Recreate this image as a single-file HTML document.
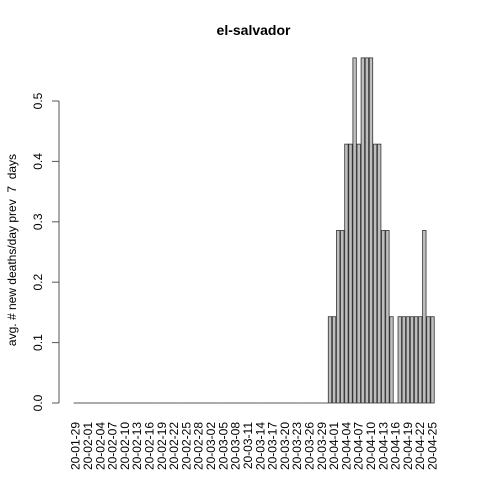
<!DOCTYPE html>
<html><head><meta charset="utf-8"><style>
body{margin:0;background:#fff}
svg{display:block;font-family:"Liberation Sans",Arial,sans-serif}
</style></head><body>
<svg id="chart" width="480" height="480" viewBox="0 0 480 480">
<rect width="480" height="480" fill="#fff"/>
<text x="253.5" y="35" font-size="14" font-weight="bold" text-anchor="middle">el-salvador</text>
<text transform="translate(16,250) rotate(-90)" font-size="12" text-anchor="middle" style="white-space:pre" xml:space="preserve">avg. # new deaths/day prev  7  days</text>
<g id="yaxis"></g>
<g id="bars"></g>
<g id="xlabels"></g>
</svg>
<script>
const startDate = "2020-01-29";
const nDays = 88;
const nonZeroValues = [0.1429,0.1429,0.2857,0.2857,0.4286,0.4286,0.5714,0.4286,0.5714,0.5714,0.5714,0.4286,0.4286,0.2857,0.2857,0.1429,0,0.1429,0.1429,0.1429,0.1429,0.1429,0.1429,0.2857,0.1429,0.1429];
const yTicks = [0,0.1,0.2,0.3,0.4,0.5];
const yTickLabels = ["0.0","0.1","0.2","0.3","0.4","0.5"];

const values = new Array(nDays - nonZeroValues.length).fill(0).concat(nonZeroValues);
const dates = [];
(function(){
  const d0 = new Date(startDate + "T00:00:00Z");
  for (let i = 0; i < values.length; i++) {
    const d = new Date(d0.getTime() + i * 86400000);
    dates.push(d.toISOString().slice(2, 10));
  }
})();

const NS = "http://www.w3.org/2000/svg";
const unit = 3.418;
const xLeft = 73.3;
function xPos(i){ return xLeft + (0.2 + i * 1.2) * unit; }
function yPos(v){ return 403 - v * 604; }

const bars = document.getElementById('bars');
values.forEach((v, i) => {
  const r = document.createElementNS(NS, 'rect');
  const y0 = yPos(0), y1 = yPos(v);
  r.setAttribute('x', xPos(i));
  r.setAttribute('y', Math.min(y0, y1));
  r.setAttribute('width', unit);
  r.setAttribute('height', Math.max(Math.abs(y0 - y1), 0.01));
  r.setAttribute('fill', '#bebebe');
  r.setAttribute('stroke', '#333');
  r.setAttribute('stroke-width', '0.8');
  
  
  bars.appendChild(r);
});

const xl = document.getElementById('xlabels');
dates.forEach((d, i) => {
  if (i % 3 !== 0) return;
  const cx = xPos(i) + unit / 2;
  const t = document.createElementNS(NS, 'text');
  t.setAttribute('transform', 'translate(' + (cx + 4) + ',422) rotate(-90)');
  t.setAttribute('font-size', '12');
  t.setAttribute('text-anchor', 'end');
  t.textContent = d;
  
  
  xl.appendChild(t);
});

const ya = document.getElementById('yaxis');
const axl = document.createElementNS(NS, 'line');
axl.setAttribute('x1', 59); axl.setAttribute('x2', 59);
axl.setAttribute('y1', yPos(yTicks[0])); axl.setAttribute('y2', yPos(yTicks[yTicks.length - 1]));
axl.setAttribute('stroke', '#555');


ya.appendChild(axl);
yTicks.forEach((v, i) => {
  const y = yPos(v);
  const tk = document.createElementNS(NS, 'line');
  tk.setAttribute('x1', 52); tk.setAttribute('x2', 59);
  tk.setAttribute('y1', y); tk.setAttribute('y2', y);
  tk.setAttribute('stroke', '#555');
  
  
  ya.appendChild(tk);
  const t = document.createElementNS(NS, 'text');
  t.setAttribute('transform', 'translate(42,' + y + ') rotate(-90)');
  t.setAttribute('font-size', '12');
  t.setAttribute('text-anchor', 'middle');
  t.textContent = yTickLabels[i];
  
  
  ya.appendChild(t);
});
</script>
</body></html>
